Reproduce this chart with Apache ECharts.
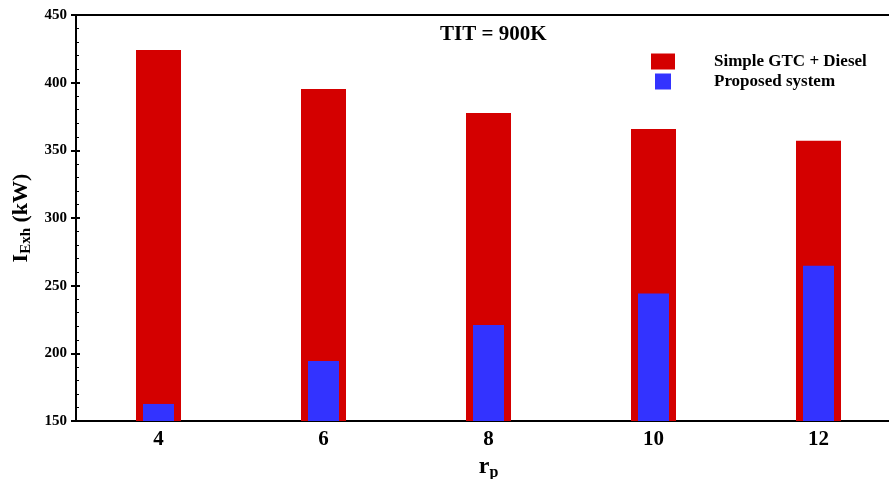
<!DOCTYPE html>
<html>
<head>
<meta charset="utf-8">
<script src="https://cdn.jsdelivr.net/npm/echarts@6/dist/echarts.min.js"></script>
<style>html,body{margin:0;padding:0;background:#fff;}#c{width:889px;height:479px;}</style>
</head>
<body>
<div id="c"></div>
<script>
var categories = ['4', '6', '8', '10', '12'];
var simpleGTC = [424.2, 395.4, 377.6, 365.8, 357.0];
var proposed = [162.6, 194.3, 221.0, 244.3, 264.8];
var seriesNames = ['Simple GTC + Diesel', 'Proposed system'];
var yTicks = {min: 150, max: 450, interval: 50};

var FONT = '"Liberation Serif", "Times New Roman", serif';
var chart = echarts.init(document.getElementById('c'), null, {renderer: 'canvas'});
chart.setOption({
  animation: false,
  backgroundColor: '#fff',
  title: {
    text: 'TIT = 900K', left: 435, top: 19,
    textStyle: {fontFamily: FONT, fontWeight: 'bold', fontSize: 21, color: '#000'}
  },
  legend: [
    {
      data: [seriesNames[0]], left: 651, top: 53, padding: 0,
      itemWidth: 24, itemHeight: 16, icon: 'rect',
      textStyle: {fontFamily: FONT, fontWeight: 'bold', fontSize: 17, color: '#000', padding: [0, 0, 0, 34]}
    },
    {
      data: [seriesNames[1]], left: 655, top: 73, padding: 0,
      itemWidth: 16, itemHeight: 16, icon: 'rect',
      textStyle: {fontFamily: FONT, fontWeight: 'bold', fontSize: 17, color: '#000', padding: [0, 0, 0, 38]}
    }
  ],
  grid: {left: 76, top: 15, bottom: 58, right: -12, containLabel: false, outerBoundsMode: 'none'},
  xAxis: [
    {
      type: 'category', data: categories, position: 'bottom',
      axisLine: {lineStyle: {color: '#000', width: 2}},
      axisTick: {show: false},
      axisLabel: {fontFamily: FONT, fontWeight: 'bold', fontSize: 21, color: '#000', margin: 8},
      name: '{r|r}{p|p}', nameLocation: 'middle', nameGap: 29,
      nameTextStyle: {
        rich: {
          r: {fontFamily: FONT, fontWeight: 'bold', fontSize: 24, color: '#000'},
          p: {fontFamily: FONT, fontWeight: 'bold', fontSize: 16, color: '#000', padding: [12, 0, 0, 0]}
        }
      }
    },
    {
      type: 'category', data: categories, position: 'top',
      axisLine: {lineStyle: {color: '#000', width: 2}},
      axisTick: {show: false}, axisLabel: {show: false}
    }
  ],
  yAxis: [
    {
      type: 'value', min: yTicks.min, max: yTicks.max, interval: yTicks.interval, position: 'left', offset: 0,
      axisLine: {show: true, lineStyle: {color: '#000', width: 2}},
      axisTick: {show: true, inside: false, length: 5, lineStyle: {color: '#000', width: 2}},
      splitLine: {show: false},
      axisLabel: {fontFamily: FONT, fontWeight: 'bold', fontSize: 15, color: '#000', margin: 9},
      name: '{i|I}{s|Exh}{i| (kW)}', nameLocation: 'middle', nameGap: 40, nameRotate: 90,
      nameTextStyle: {
        rich: {
          i: {fontFamily: FONT, fontWeight: 'bold', fontSize: 22, color: '#000'},
          s: {fontFamily: FONT, fontWeight: 'bold', fontSize: 15, color: '#000', padding: [10, 0, 0, 0]}
        }
      }
    },
    {
      type: 'value', min: yTicks.min, max: yTicks.max, interval: yTicks.interval, position: 'left', offset: 0,
      axisLine: {show: false},
      axisTick: {show: true, inside: true, length: 4, lineStyle: {color: '#000', width: 2}},
      minorTick: {show: true, splitNumber: 5, length: 3, lineStyle: {color: '#000', width: 1}},
      splitLine: {show: false}, axisLabel: {show: false}
    }
  ],
  series: [
    {
      name: seriesNames[0], type: 'bar', data: simpleGTC, barWidth: 45,
      xAxisIndex: 0, yAxisIndex: 0,
      itemStyle: {color: '#D40000'}
    },
    {
      name: seriesNames[1], type: 'bar', data: proposed, barWidth: 31,
      xAxisIndex: 1, yAxisIndex: 0,
      itemStyle: {color: '#3333FF'}
    }
  ]
});
</script>
</body>
</html>
